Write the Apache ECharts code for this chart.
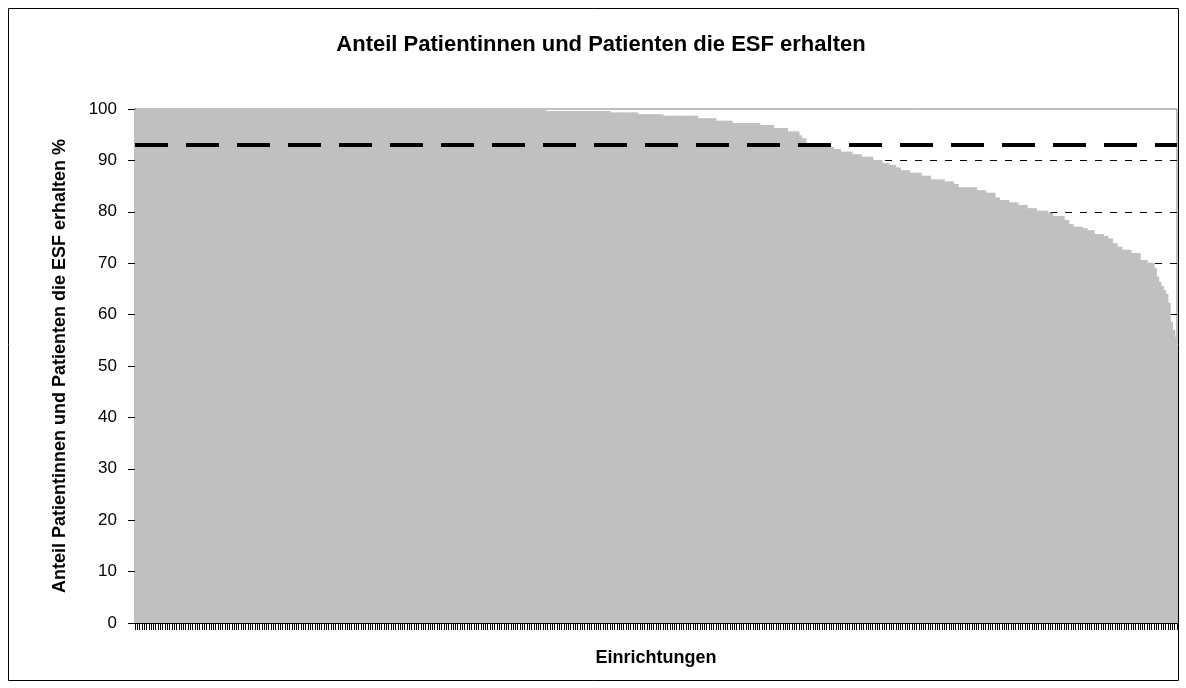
<!DOCTYPE html>
<html>
<head>
<meta charset="utf-8">
<script src="https://cdn.jsdelivr.net/npm/echarts@6/dist/echarts.min.js"></script>
<style>
html,body{margin:0;padding:0;background:#fff;}
#chart{width:1186px;height:688px;}
</style>
</head>
<body>
<div id="chart"></div>
<script>
const titleText = 'Anteil Patientinnen und Patienten die ESF erhalten';
const yAxisName = 'Anteil Patientinnen und Patienten die ESF erhalten %';
const xAxisName = 'Einrichtungen';
const referenceValue = 93.1;

const values = [
100,100,100,100,100,100,100,100,100,100,100,100,100,100,100,100,100,100,100,100,
100,100,100,100,100,100,100,100,100,100,100,100,100,100,100,100,100,100,100,100,
100,100,100,100,100,100,100,100,100,100,100,100,100,100,100,100,100,100,100,100,
100,100,100,100,100,100,100,100,100,100,100,100,100,100,100,100,100,100,100,100,
100,100,100,100,100,100,100,100,100,100,100,100,100,100,100,100,100,100,100,100,
100,100,100,100,100,100,100,100,100,100,100,100,100,100,100,100,100,100,100,100,
100,100,100,100,100,100,100,100,100,100,100,100,100,100,100,100,100,100,100,100,
100,100,100,100,100,100,100,100,100,100,100,100,100,100,100,100,100,100,100,100,
100,100,100,100,100,100,100,100,100,100,100,100,100,100,100,100,100,100,
99.6,99.6,99.6,99.6,99.6,99.6,99.6,99.6,99.6,99.6,99.6,99.6,99.6,99.6,
99.6,99.6,99.6,99.6,99.6,99.6,99.6,99.6,99.6,99.6,99.6,99.6,99.6,99.6,
99.3,99.3,99.3,99.3,99.3,99.3,99.3,99.3,99.3,99.3,99.3,99.3,
99.0,99.0,99.0,99.0,99.0,99.0,99.0,99.0,99.0,99.0,99.0,
98.7,98.7,98.7,98.7,98.7,98.7,98.7,98.7,98.7,98.7,98.7,98.7,98.7,98.7,98.7,
98.2,98.2,98.2,98.2,98.2,98.2,98.2,98.2,
97.7,97.7,97.7,97.7,97.7,97.7,97.7,
97.3,97.3,97.3,97.3,97.3,97.3,97.3,97.3,97.3,97.3,97.3,97.3,
96.9,96.9,96.9,96.9,96.9,96.9,
96.3,96.3,96.3,96.3,96.3,96.3,
95.6,95.6,95.6,95.6,95.6,
94.9,94.3,94.3,
93.4,93.4,93.4,93.4,93.4,93.4,93.4,93.4,93.4,93.4,
92.6,92.6,
92.2,92.2,92.2,
91.7,91.7,91.7,91.7,91.7,
91.2,91.2,91.2,91.2,
90.7,90.7,90.7,90.7,90.7,
90.1,90.1,90.1,90.1,
89.5,89.5,89.5,
89.1,89.1,89.1,
88.6,88.6,
88.1,88.1,88.1,88.1,
87.6,87.6,87.6,87.6,87.6,
87.0,87.0,87.0,87.0,
86.3,86.3,86.3,86.3,86.3,86.3,
85.9,85.9,85.9,85.9,
85.4,85.4,
84.8,84.8,84.8,84.8,84.8,84.8,84.8,84.8,
84.2,84.2,84.2,84.2,
83.7,83.7,83.7,83.7,
82.8,82.8,
82.3,82.3,82.3,82.3,
81.8,81.8,81.8,81.8,
81.3,81.3,81.3,81.3,
80.7,80.7,80.7,80.7,
80.2,80.2,80.2,80.2,80.2,
79.8,79.8,
79.2,79.2,79.2,79.2,79.2,
78.4,78.4,
77.6,77.6,
77.1,77.1,77.1,77.1,
76.8,76.8,
76.4,76.4,76.4,
75.7,75.7,75.7,75.7,
75.3,75.3,
74.8,74.8,
73.9,73.9,
73.2,73.2,
72.6,72.6,72.6,72.6,
72.0,72.0,72.0,72.0,
70.6,70.6,70.6,
70.1,70.1,70.1,
69.1,67.4,66.4,65.6,64.8,64.0,62.3,58.6,57.0,55.7
];

const categories = values.map((v, i) => 'E' + (i + 1));
const yTicks = [0, 10, 20, 30, 40, 50, 60, 70, 80, 90, 100];

const chart = echarts.init(document.getElementById('chart'), null, {renderer: 'canvas'});
const font = '"Liberation Sans", Arial, sans-serif';

chart.setOption({
  animation: false,
  backgroundColor: '#ffffff',
  textStyle: {fontFamily: font},
  graphic: [{
    type: 'rect',
    shape: {x: 8.5, y: 8.5, width: 1170, height: 672},
    style: {fill: 'none', stroke: '#000', lineWidth: 1},
    silent: true,
    z: -1
  }, {
    type: 'text',
    silent: true,
    style: {
      text: titleText, x: 601, y: 45,
      textAlign: 'center', textVerticalAlign: 'middle',
      font: 'bold 22px "Liberation Sans", Arial, sans-serif',
      fill: '#000'
    }
  }],
  grid: {
    left: 135, right: 9, top: 109, bottom: 65,
    show: true, borderColor: '#808080', borderWidth: 1, backgroundColor: 'transparent'
  },
  xAxis: {
    type: 'category',
    data: categories,
    name: xAxisName,
    nameLocation: 'middle',
    nameGap: 26,
    nameTextStyle: {fontFamily: font, fontSize: 18, fontWeight: 'bold', color: '#000'},
    axisLine: {lineStyle: {color: '#000', width: 1}},
    axisTick: {show: true, interval: 0, length: 7, lineStyle: {color: '#000', width: 1}},
    axisLabel: {show: false},
    splitLine: {show: false}
  },
  yAxis: {
    type: 'value',
    min: 0, max: 100, interval: 10,
    name: yAxisName,
    nameLocation: 'middle',
    nameRotate: 90,
    nameGap: 66,
    nameTextStyle: {fontFamily: font, fontSize: 18, fontWeight: 'bold', color: '#000'},
    axisLine: {show: true, lineStyle: {color: '#000', width: 1}},
    axisTick: {show: true, length: 7, lineStyle: {color: '#000'}},
    axisLabel: {
      fontFamily: font, fontSize: 17, color: '#000', margin: 18,
      formatter: v => yTicks.includes(v) ? String(v) : ''
    },
    splitLine: {
      show: true, showMinLine: false, showMaxLine: false,
      lineStyle: {color: '#000', width: 1, type: [7, 8]}
    }
  },
  series: [{
    type: 'bar',
    data: values,
    barWidth: 3.6,
    barGap: '0%',
    barCategoryGap: '0%',
    itemStyle: {color: '#c0c0c0', borderWidth: 0},
    emphasis: {disabled: true},
    markLine: {
      silent: true,
      symbol: ['none', 'none'],
      label: {show: false},
      lineStyle: {color: '#000', width: 4, type: [33, 18]},
      data: [{yAxis: referenceValue}]
    }
  }]
});
</script>
</body>
</html>
